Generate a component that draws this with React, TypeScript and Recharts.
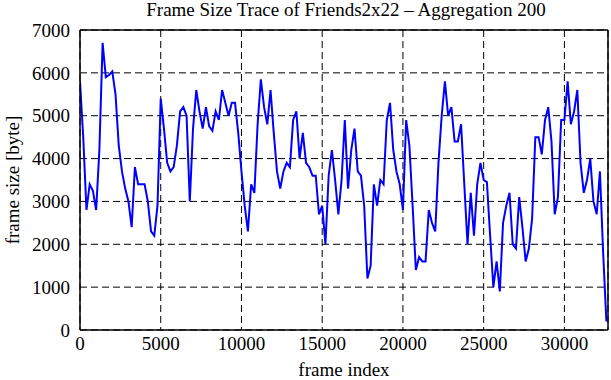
import React from 'react';
import { LineChart, Line, XAxis, YAxis, CartesianGrid } from 'recharts';

const AGGREGATION = 200;
const X_MAX = 32700;

const frameSizes: number[] = [
  5800, 4500, 2800, 3400, 3250, 2800, 4200, 6700, 5900, 5950,
  6030, 5500, 4300, 3700, 3300, 3000, 2400, 3800, 3400, 3400,
  3400, 3000, 2300, 2200, 2900, 5400, 4700, 3900, 3700, 3800,
  4300, 5100, 5200, 5000, 3000, 4700, 5600, 5100, 4700, 5200,
  4750, 4650, 5100, 4900, 5600, 5300, 5000, 5300, 5300, 4600,
  3700, 2900, 2300, 3400, 3200, 4800, 5850, 5200, 4800, 5600,
  4600, 3700, 3300, 3700, 3900, 3800, 4900, 5100, 4000, 4600,
  3900, 3800, 3600, 3600, 2700, 2900, 2000, 3600, 4200, 3500,
  2700, 3500, 4900, 3300, 4200, 4700, 3700, 3600, 2900, 1200,
  1500, 3400, 2900, 3500, 3400, 4900, 5300, 4200, 3700, 3400,
  2800, 4900, 4300, 2900, 1400, 1700, 1600, 1600, 2800, 2500,
  2300, 3900, 5000, 5800, 5000, 5200, 4400, 4400, 4800, 3400,
  2000, 3200, 2200, 3400, 3900, 3500, 3450, 2200, 1000, 1600,
  900, 2500, 2900, 3200, 2000, 1900, 3100, 2400, 1600, 1900,
  2600, 4500, 4500, 4100, 4900, 5200, 4400, 2700, 3100, 4900,
  4900, 5800, 4800, 5100, 5600, 3900, 3200, 3500, 4000, 3000,
  2700, 3700, 1800, 200,
];

const xTicks = [0, 5000, 10000, 15000, 20000, 25000, 30000];
const yTicks = [0, 1000, 2000, 3000, 4000, 5000, 6000, 7000];

const TITLE = 'Frame Size Trace of Friends2x22 \u2013 Aggregation 200';
const X_LABEL = 'frame index';
const Y_LABEL = 'frame size [byte]';

const data = frameSizes.map((v, i) => ({ frame: i * AGGREGATION, size: v }));

const FONT = '"Liberation Serif", "Times New Roman", Times, serif';
const FS = 19;

export default function App() {
  const tickStyle = { fill: '#000', fontSize: FS, fontFamily: FONT };
  return (
    <div style={{ position: 'absolute', left: 0, top: 0, width: 611, height: 380, background: '#fff' }}>
      <LineChart width={611} height={380} data={data} margin={{ top: 30, right: 3, bottom: 20, left: 0 }}>
        <CartesianGrid stroke="#000" strokeWidth={1} strokeDasharray="7 4" />
        <XAxis
          dataKey="frame"
          type="number"
          domain={[0, X_MAX]}
          allowDataOverflow
          ticks={xTicks}
          height={30}
          tickLine={false}
          tickSize={6}
          tickMargin={1}
          axisLine={{ stroke: '#000', strokeWidth: 1.5 }}
          tick={tickStyle}
        />
        <XAxis
          xAxisId="bottomTicks"
          type="number"
          orientation="bottom"
          mirror
          domain={[0, X_MAX]}
          allowDataOverflow
          ticks={xTicks}
          tick={false}
          tickSize={6}
          tickLine={{ stroke: '#000', strokeWidth: 1.5 }}
          axisLine={false}
        />
        <XAxis
          xAxisId="top"
          type="number"
          orientation="top"
          mirror
          domain={[0, X_MAX]}
          allowDataOverflow
          ticks={xTicks}
          tick={false}
          tickSize={6}
          tickLine={{ stroke: '#000', strokeWidth: 1.5 }}
          axisLine={{ stroke: '#000', strokeWidth: 1.5 }}
        />
        <YAxis
          type="number"
          domain={[0, 7000]}
          allowDataOverflow
          ticks={yTicks}
          width={80}
          tickLine={false}
          tickSize={6}
          tickMargin={4}
          axisLine={{ stroke: '#000', strokeWidth: 1.5 }}
          tick={tickStyle}
        />
        <YAxis
          yAxisId="leftTicks"
          type="number"
          orientation="left"
          mirror
          domain={[0, 7000]}
          allowDataOverflow
          ticks={yTicks}
          tick={false}
          tickSize={6}
          tickLine={{ stroke: '#000', strokeWidth: 1.5 }}
          axisLine={false}
        />
        <YAxis
          yAxisId="right"
          type="number"
          orientation="right"
          mirror
          domain={[0, 7000]}
          allowDataOverflow
          ticks={yTicks}
          tick={false}
          tickSize={6}
          tickLine={{ stroke: '#000', strokeWidth: 1.5 }}
          axisLine={{ stroke: '#000', strokeWidth: 1.5 }}
        />
        <Line
          type="linear"
          dataKey="size"
          stroke="#0000ff"
          strokeWidth={2}
          dot={false}
          isAnimationActive={false}
        />
      </LineChart>
      <svg
        width={611}
        height={380}
        style={{ position: 'absolute', left: 0, top: 0, pointerEvents: 'none' }}
      >
        <text x={346} y={16} textAnchor="middle" fontFamily={FONT} fontSize={FS} fill="#000">
          {TITLE}
        </text>
        <text x={344} y={376} textAnchor="middle" fontFamily={FONT} fontSize={FS} fill="#000">
          {X_LABEL}
        </text>
        <text
          x={0}
          y={0}
          transform="translate(19,180) rotate(-90)"
          textAnchor="middle"
          fontFamily={FONT}
          fontSize={FS}
          fill="#000"
        >
          {Y_LABEL}
        </text>
      </svg>
    </div>
  );
}
